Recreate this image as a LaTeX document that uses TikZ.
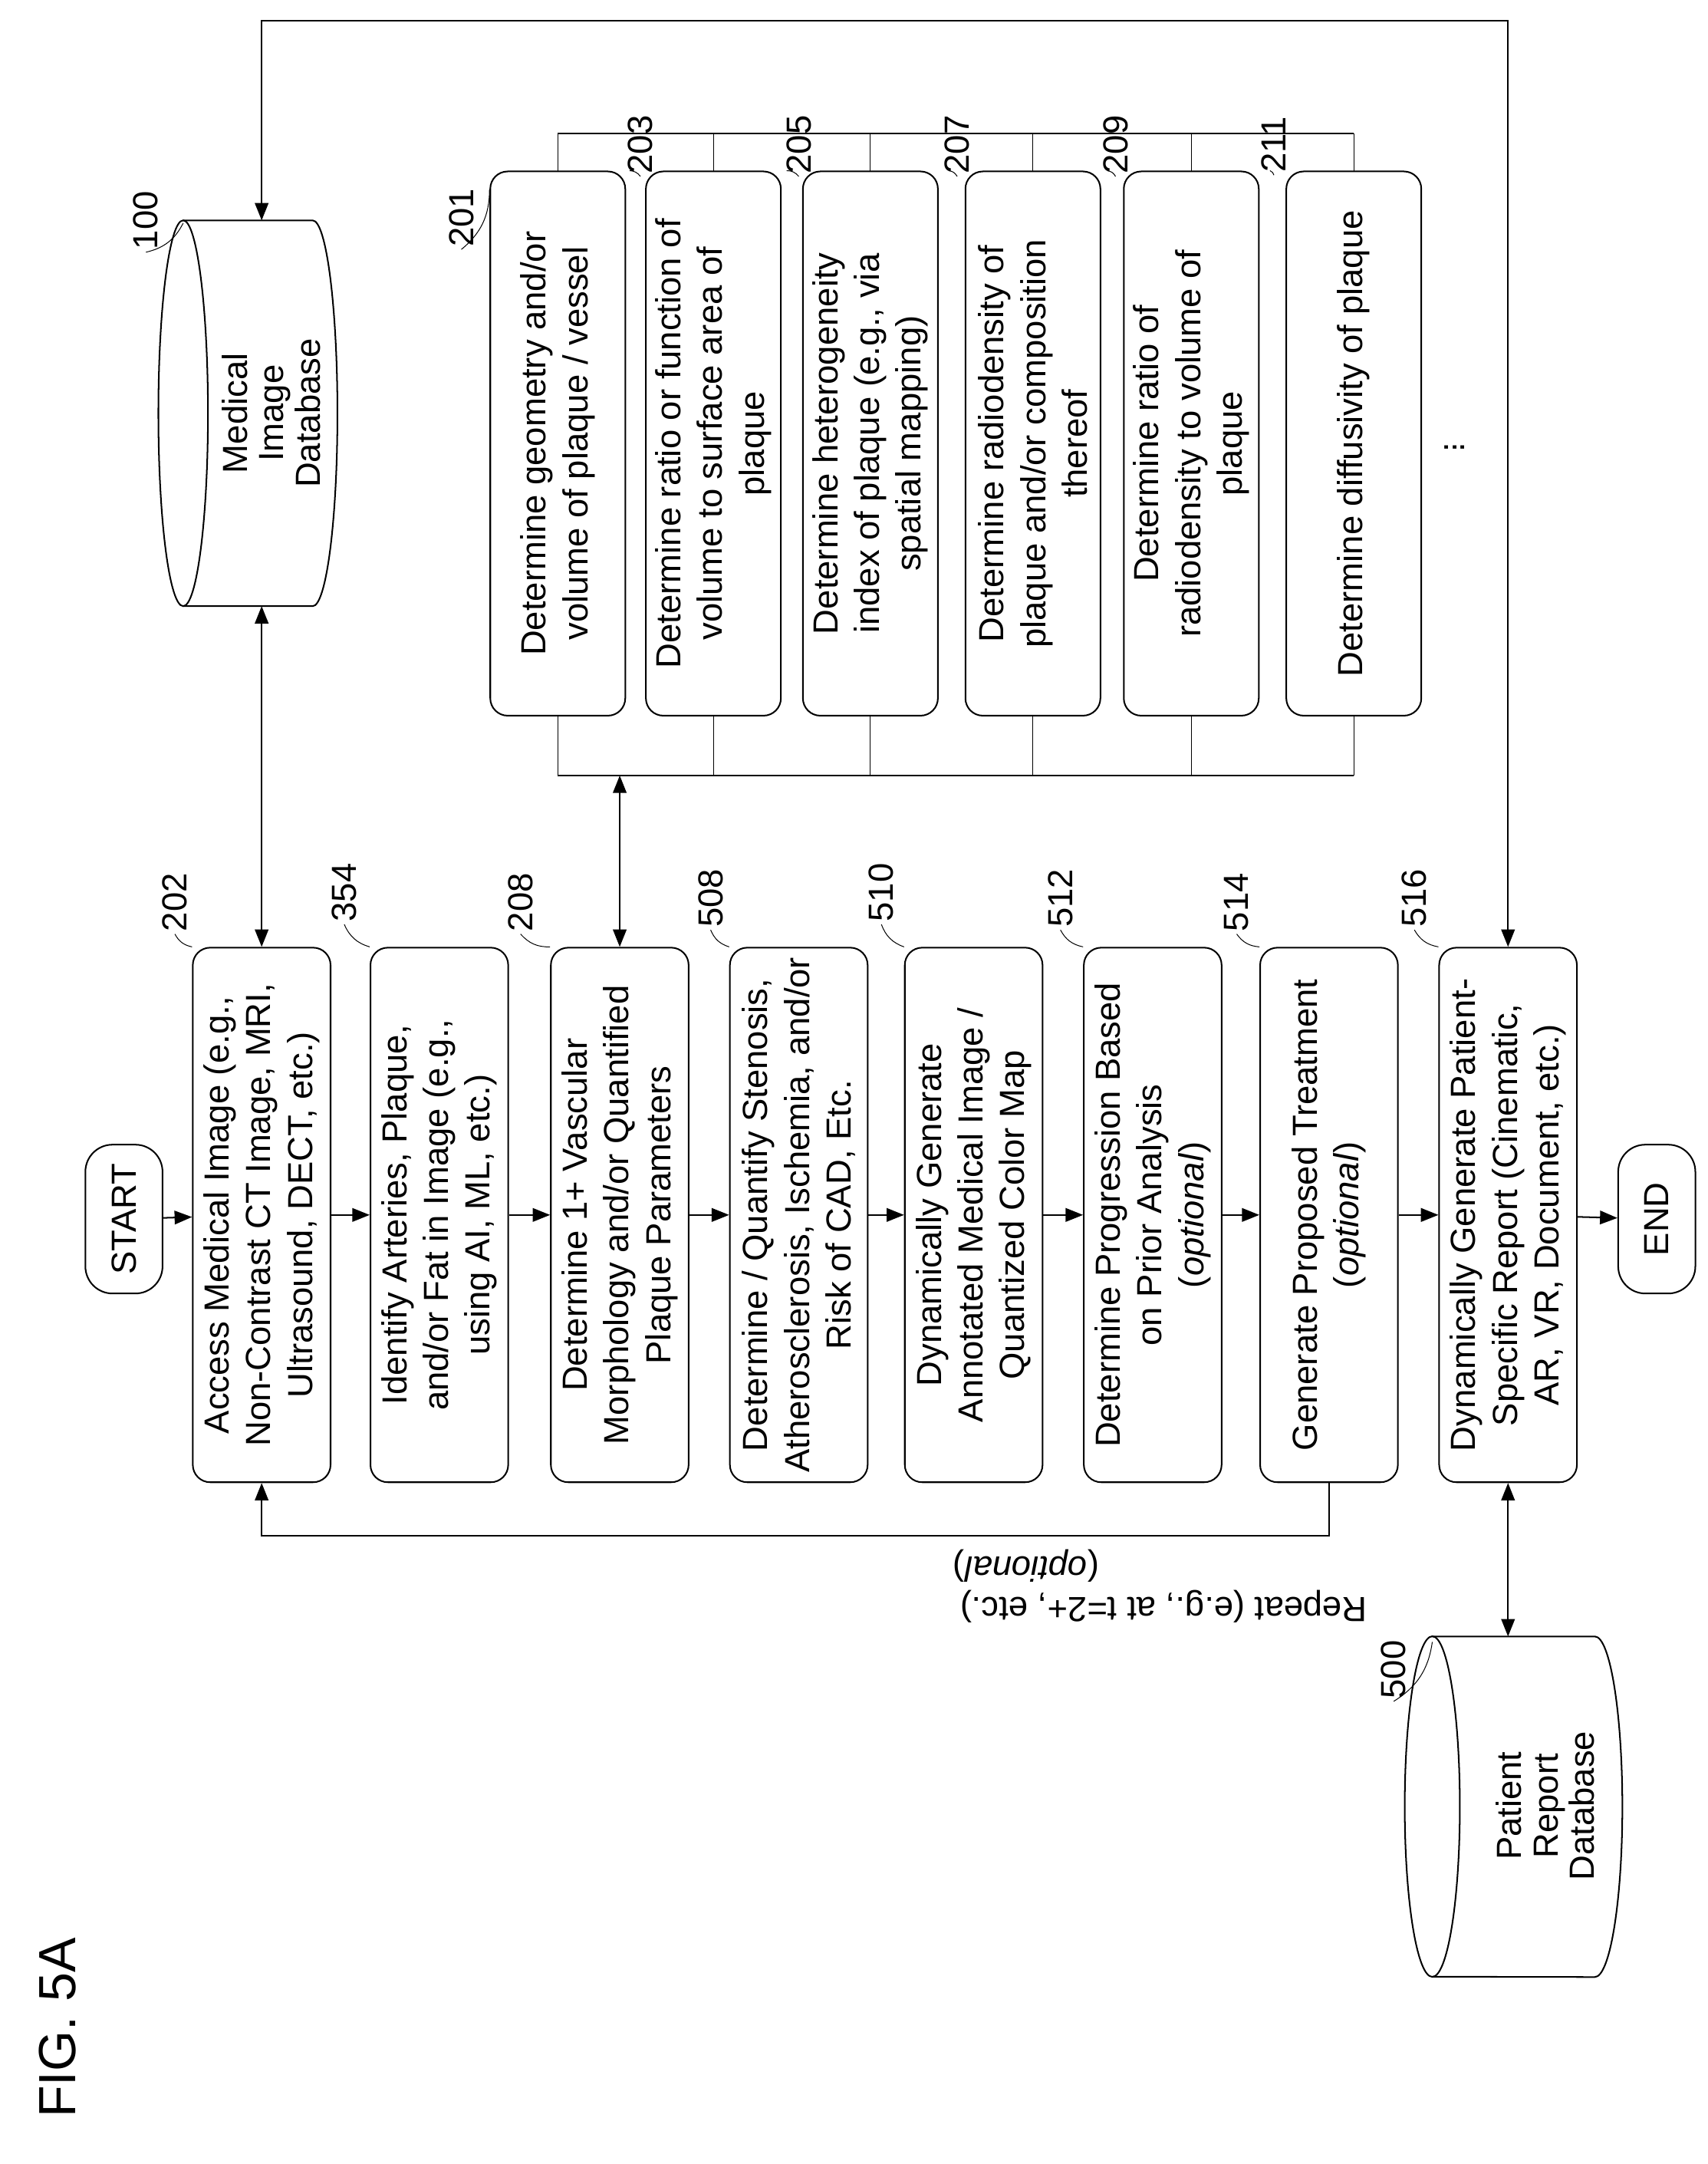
\documentclass[tikz,border=0pt]{standalone}
\usepackage{fontspec}
\setmainfont{Liberation Sans}
\usetikzlibrary{arrows.meta}

\begin{document}
\begin{tikzpicture}[x=0.025cm, y=-0.025cm, >={Triangle[length=9pt,width=7pt]}, thick,
  every node/.style={font=\fontsize{18}{21.5}\selectfont},
  main node/.style={draw, rounded corners=9pt, fill=white, rotate=90, align=center, minimum width=9.7cm, minimum height=2.5cm, inner sep=2pt},
  sub node/.style={draw, rounded corners=9pt, fill=white, rotate=90, align=center, minimum width=9.875cm, minimum height=2.45cm, inner sep=2pt},
  term node/.style={draw, rounded corners=14pt, rotate=90, minimum width=2.7cm, minimum height=1.4cm},
  db node/.style={rotate=90, align=center, inner sep=1pt, font=\fontsize{18}{19}\selectfont},
  ref node/.style={rotate=90, inner sep=1pt}]

  \useasboundingbox (0,0) rectangle (1240,1571);

  \node[rotate=90, font=\fontsize{27}{30}\selectfont] (fig) at (42,1472) {FIG. 5A};

  % main column
  \node[term node] (start) at (90,885) {START};
  \node[main node] (access) at (190,882) {Access Medical Image (e.g.,\\ Non-Contrast CT Image, MRI,\\ Ultrasound, DECT, etc.)};
  \node[main node] (identify) at (319,882) {Identify Arteries, Plaque,\\ and/or Fat in Image (e.g.,\\ using AI, ML, etc.)};
  \node[main node] (morph) at (450,882) {Determine 1+ Vascular\\ Morphology and/or Quantified\\ Plaque Parameters};
  \node[main node] (stenosis) at (580,882) {Determine / Quantify Stenosis,\\ Atherosclerosis, Ischemia, and/or\\ Risk of CAD, Etc.};
  \node[main node] (annot) at (707,882) {Dynamically Generate\\ Annotated Medical Image /\\ Quantized Color Map};
  \node[main node] (progr) at (837,882) {Determine Progression Based\\ on Prior Analysis\\ (\textit{optional})};
  \node[main node] (treat) at (965,882) {Generate Proposed Treatment\\ (\textit{optional})};
  \node[main node] (report) at (1095,882) {Dynamically Generate Patient-\\ Specific Report (Cinematic,\\ AR, VR, Document, etc.)};
  \node[term node] (stop) at (1203,885) {END};

  \path[->]
    (start) edge (access)
    (access) edge (identify)
    (identify) edge (morph)
    (morph) edge (stenosis)
    (stenosis) edge (annot)
    (annot) edge (progr)
    (progr) edge (treat)
    (treat) edge (report)
    (report) edge (stop);

  % databases
  \draw (133,160) -- (227,160) arc[start angle=90, end angle=-90, x radius=0.45cm, y radius=3.5cm] -- (133,440);
  \draw (133,300) ellipse[x radius=0.45cm, y radius=3.5cm];
  \node[db node] (meddb) at (197,300) {Medical\\ Image\\ Database};
  \coordinate (mtop) at (190,160);
  \coordinate (mbot) at (190,440);

  \draw (1040,1188) -- (1158,1188) arc[start angle=90, end angle=-90, x radius=0.5cm, y radius=3.09cm] -- (1040,1435);
  \draw (1040,1311.5) ellipse[x radius=0.5cm, y radius=3.09cm];
  \node[db node] (patdb) at (1122,1311) {Patient\\ Report\\ Database};
  \coordinate (ptop) at (1095,1188);

  % sub-steps of 208
  \draw (405,97) -- (983,97) (405,563) -- (983,563);
  \foreach \xx in {405,518,632,750,865,983}
    \draw[thin] (\xx,97) -- (\xx,563);
  \node[sub node] (geom) at (405,322) {Determine geometry and/or\\ volume of plaque / vessel};
  \node[sub node] (ratio) at (518,322) {Determine ratio or function of\\ volume to surface area of\\ plaque};
  \node[sub node] (hetero) at (632,322) {Determine heterogeneity\\ index of plaque (e.g., via\\ spatial mapping)};
  \node[sub node] (radio) at (750,322) {Determine radiodensity of\\ plaque and/or composition\\ thereof};
  \node[sub node] (rdvol) at (865,322) {Determine ratio of\\ radiodensity to volume of\\ plaque};
  \node[sub node] (diffus) at (983,322) {Determine diffusivity of plaque};
  \node[rotate=90] (more) at (1052,325) {$\vdots$};

  % connectors
  \coordinate (brk) at (450,563);
  \coordinate (top) at (600,15);
  \coordinate (loop) at (600,1115);
  \draw[<->] (access) -- (mbot);
  \draw[<->] (morph) -- (brk);
  \draw[<->] (report) -- (ptop);
  \draw[<->] (mtop) -- (mtop |- top) -| (report);
  \draw[->] (treat) -- (treat |- loop) -| (access);
  \node[rotate=180] (rep) at (845,1166) {Repeat (e.g., at t=2+, etc.)};
  \node[rotate=180] (opt) at (745,1137) {(\textit{optional})};

  % reference numerals
  \node[ref node] (l100) at (106,160) {100};
  \node[ref node] (l202) at (127,655) {202};
  \node[ref node] (l354) at (250,648) {354};
  \node[ref node] (l208) at (378,655) {208};
  \node[ref node] (l508) at (516,652) {508};
  \node[ref node] (l510) at (640,648) {510};
  \node[ref node] (l512) at (770,652) {512};
  \node[ref node] (l514) at (898,655) {514};
  \node[ref node] (l516) at (1027,652) {516};
  \node[ref node] (l500) at (1012,1212) {500};
  \node[ref node] (l201) at (335,158) {201};
  \node[ref node] (l203) at (465,105) {203};
  \node[ref node] (l205) at (580,105) {205};
  \node[ref node] (l207) at (695,105) {207};
  \node[ref node] (l209) at (810,105) {209};
  \node[ref node] (l211) at (925,105) {211};

  \path[thin, every edge/.style={draw, bend right=25}]
    (l100.west) edge (133,162)
    (l202.west) edge (access.north east)
    (l354.west) edge (identify.north east)
    (l208.west) edge (morph.north east)
    (l508.west) edge (stenosis.north east)
    (l510.west) edge (annot.north east)
    (l512.west) edge (progr.north east)
    (l514.west) edge (treat.north east)
    (l516.west) edge (report.north east)
    (l500.west) edge (1040,1192)
    (l201.west) edge ([yshift=-10pt]geom.north east)
    (l203.west) edge ([xshift=-8pt]ratio.north east)
    (l205.west) edge ([xshift=-8pt]hetero.north east)
    (l207.west) edge ([xshift=-8pt]radio.north east)
    (l209.west) edge ([xshift=-8pt]rdvol.north east)
    (l211.west) edge ([xshift=-8pt]diffus.north east);
\end{tikzpicture}
\end{document}
